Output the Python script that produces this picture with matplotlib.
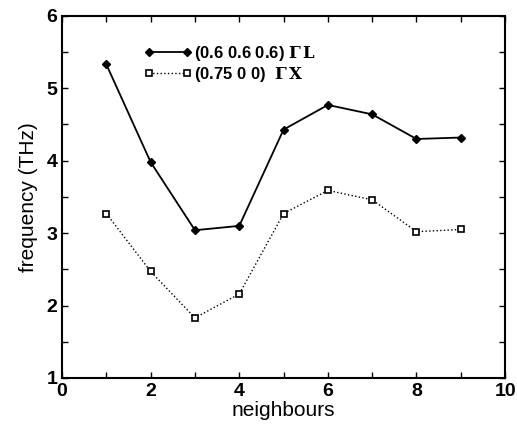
import numpy as np
import matplotlib
matplotlib.use('Agg')
import matplotlib.pyplot as plt
from matplotlib.ticker import MultipleLocator

neighbours = [1, 2, 3, 4, 5, 6, 7, 8, 9]
freq_L = [5.33, 3.98, 3.04, 3.10, 4.43, 4.77, 4.64, 4.30, 4.32]
freq_X = [3.27, 2.47, 1.83, 2.16, 3.27, 3.59, 3.46, 3.02, 3.05]
label_L = "(0.6 0.6 0.6) "
label_X = "(0.75 0 0)  "

plt.rcParams['font.family'] = ['Liberation Sans', 'DejaVu Sans']
plt.rcParams['mathtext.fontset'] = 'dejavuserif'

fig = plt.figure(figsize=(5.17, 4.29), dpi=100)
ax = fig.add_axes([0.12, 0.119, 0.857, 0.844])

ax.plot(neighbours, freq_L, '-', color='black', lw=1.3, marker='D', ms=4.5,
        mfc='black', mec='black', label=label_L + r'$\mathbf{\Gamma\,L}$')
ax.plot(neighbours, freq_X, ':', color='black', lw=1.0, marker='s', ms=5,
        mfc='white', mec='black', mew=1.2, label=label_X + r'$\mathbf{\Gamma\,X}$')

ax.set_xlim(0, 10)
ax.set_ylim(1, 6)
ax.xaxis.set_major_locator(MultipleLocator(2))
ax.xaxis.set_minor_locator(MultipleLocator(1))
ax.yaxis.set_major_locator(MultipleLocator(1))
ax.yaxis.set_minor_locator(MultipleLocator(0.5))
ax.tick_params(which='both', direction='in', top=True, right=True,
               length=4, width=1.0, labelsize=14)
for lab in ax.get_xticklabels() + ax.get_yticklabels():
    lab.set_fontweight('bold')
for s in ax.spines.values():
    s.set_linewidth(1.5)

ax.set_xlabel('neighbours', fontsize=15, labelpad=1)
ax.set_ylabel('frequency (THz)', fontsize=15, labelpad=6)

leg = ax.legend(loc='upper left', bbox_to_anchor=(0.15, 0.965), frameon=False,
                fontsize=12, handlelength=2.9, handletextpad=0.1,
                labelspacing=0.15, numpoints=2)
for t in leg.get_texts():
    t.set_fontweight('bold')

fig.savefig('out.png', dpi=100)
